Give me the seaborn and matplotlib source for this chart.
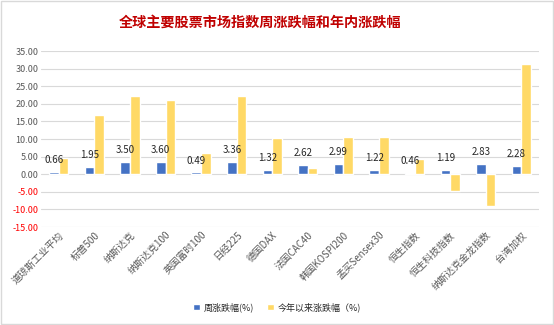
import matplotlib
matplotlib.use("Agg")
import matplotlib.pyplot as plt
import seaborn as sns
import pandas as pd
from matplotlib.patches import Rectangle

categories = ["道琼斯工业平均", "标普500", "纳斯达克", "纳斯达克100", "英国富时100", "日经225",
              "德国DAX", "法国CAC40", "韩国KOSPI200", "孟买Sensex30", "恒生指数", "恒生科技指数",
              "纳斯达克金龙指数", "台湾加权"]
weekly = [0.66, 1.95, 3.50, 3.60, 0.49, 3.36, 1.32, 2.62, 2.99, 1.22, 0.46, 1.19, 2.83, 2.28]
ytd = [4.5, 16.7, 22.3, 21.2, 5.9, 22.3, 10.2, 1.7, 10.5, 10.7, 4.2, -4.8, -8.9, 31.4]
series_names = ["周涨跌幅(%)", "今年以来涨跌幅（%)"]
yticks = [-15, -10, -5, 0, 5, 10, 15, 20, 25, 30, 35]

df = pd.DataFrame({
    "cat": categories * 2,
    "val": weekly + ytd,
    "series": [series_names[0]] * len(categories) + [series_names[1]] * len(categories),
})

sns.set_theme(style="white")
plt.rcParams["font.family"] = ["Noto Sans CJK SC", "DejaVu Sans"]

fig = plt.figure(figsize=(5.54, 3.25), dpi=100)
ax = fig.add_axes([0.074, 0.3015, 0.899, 0.5415])

sns.barplot(data=df, x="cat", y="val", hue="series", order=categories,
            hue_order=series_names, palette=["#4472C4", "#FFD966"],
            width=0.54, ax=ax, legend=True, saturation=1)

ax.set_ylim(-15, 35)
ax.set_yticks(yticks)
ax.set_yticklabels([f"{v:.2f}" for v in yticks], fontsize=6.5)
for lbl, v in zip(ax.get_yticklabels(), yticks):
    lbl.set_color("#FF0000" if v < 0 else "#595959")
ax.yaxis.grid(True, color="#D9D9D9", linewidth=0.8)
ax.set_axisbelow(True)
for s in ax.spines.values():
    s.set_visible(False)
ax.tick_params(axis="both", length=0, pad=2)
ax.set_xlabel("")
ax.set_ylabel("")
ax.set_xticks(range(len(categories)))
ax.set_xticklabels(categories, rotation=45, ha="right", rotation_mode="anchor",
                   fontsize=7, color="#595959")
ax.set_xlim(-0.5, len(categories) - 0.5)

ax.bar_label(ax.containers[0], labels=[f"{v:.2f}" for v in weekly],
             padding=5, fontsize=7, color="#262626")

leg = ax.legend(loc="center", bbox_to_anchor=(0.5, 0.055), bbox_transform=fig.transFigure,
                ncol=2, frameon=False, fontsize=6.5, handlelength=0.7, handleheight=0.7,
                columnspacing=1.5, handletextpad=0.4)
for t in leg.get_texts():
    t.set_color("#262626")

fig.text(0.47, 0.929, "全球主要股票市场指数周涨跌幅和年内涨跌幅", ha="center", va="center",
         fontsize=10.2, fontweight="bold", color="#C00000")

fig.patches.append(Rectangle((0.002, 0.003), 0.996, 0.994, transform=fig.transFigure,
                             fill=False, edgecolor="#D9D9D9", linewidth=1))

fig.savefig("out.png", dpi=100)
